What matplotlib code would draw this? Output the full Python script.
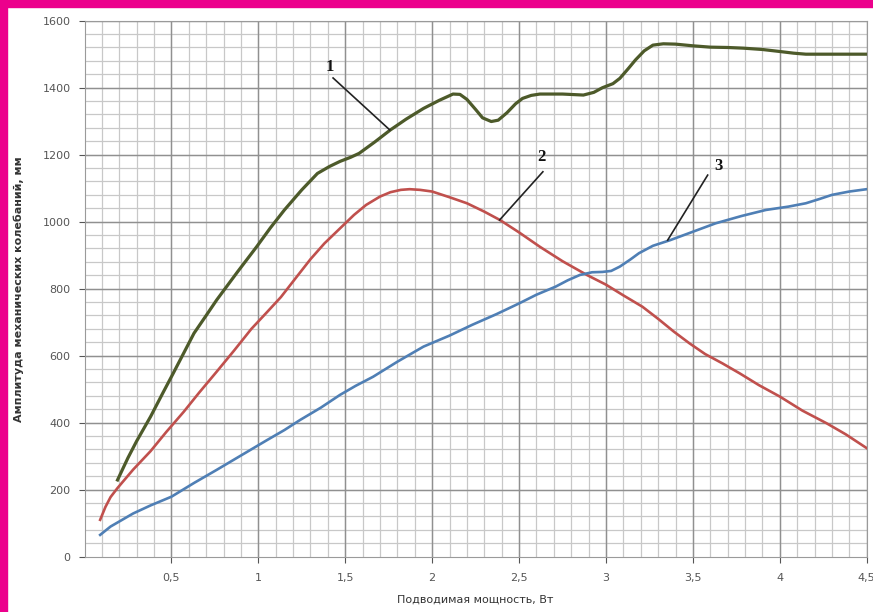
import matplotlib.pyplot as plt
from matplotlib.patches import Rectangle

# curve 1 (green)
x1 = [0.19, 0.25, 0.30, 0.38, 0.45, 0.51, 0.57, 0.63, 0.70, 0.76, 0.88, 0.99, 1.07, 1.15, 1.25,
      1.34, 1.41, 1.47, 1.53, 1.58, 1.67, 1.76, 1.85, 1.95, 2.04, 2.12, 2.16, 2.20, 2.25, 2.29,
      2.34, 2.38, 2.43, 2.48, 2.52, 2.57, 2.62, 2.75, 2.87, 2.93, 2.98, 3.04, 3.08, 3.13, 3.17,
      3.22, 3.27, 3.33, 3.40, 3.50, 3.60, 3.70, 3.79, 3.90, 4.00, 4.08, 4.15, 4.30, 4.50]
y1 = [229, 295, 345, 418, 488, 547, 607, 667, 720, 766, 850, 925, 982, 1035, 1095,
      1144, 1165, 1180, 1192, 1204, 1238, 1274, 1306, 1338, 1362, 1381, 1380, 1365, 1335, 1310,
      1299, 1303, 1325, 1352, 1368, 1377, 1381, 1381, 1378, 1386, 1400, 1412, 1428, 1458, 1483,
      1510, 1527, 1531, 1530, 1525, 1521, 1520, 1518, 1514, 1508, 1503, 1500, 1500, 1500]

# curve 2 (red)
x2 = [0.09, 0.12, 0.15, 0.19, 0.28, 0.38, 0.47, 0.57, 0.66, 0.76, 0.86, 0.96, 1.05, 1.13, 1.22,
      1.30, 1.38, 1.47, 1.55, 1.62, 1.70, 1.76, 1.82, 1.87, 1.93, 2.00, 2.10, 2.20, 2.30, 2.39,
      2.50, 2.62, 2.75, 2.89, 3.00, 3.10, 3.21, 3.30, 3.39, 3.48, 3.57, 3.67, 3.77, 3.88, 4.00,
      4.13, 4.27, 4.38, 4.50]
y2 = [110, 148, 178, 205, 260, 315, 372, 432, 490, 552, 615, 680, 730, 775, 835,
      888, 935, 980, 1020, 1050, 1075, 1088, 1095, 1097, 1095, 1090, 1073, 1055, 1030, 1005,
      968, 925, 882, 841, 812, 780, 746, 710, 672, 637, 605, 577, 547, 512, 478,
      436, 398, 365, 324]

# curve 3 (blue)
x3 = [0.09, 0.15, 0.20, 0.28, 0.38, 0.50, 0.63, 0.76, 0.90, 1.05, 1.15, 1.24, 1.36, 1.47, 1.56,
      1.66, 1.80, 1.95, 2.10, 2.23, 2.37, 2.50, 2.60, 2.71, 2.78, 2.85, 2.92, 2.98, 3.03, 3.08,
      3.14, 3.19, 3.27, 3.37, 3.50, 3.63, 3.78, 3.92, 4.05, 4.15, 4.23, 4.30, 4.40, 4.50]
y3 = [65, 90, 105, 129, 153, 179, 220, 259, 302, 348, 378, 408, 445, 483, 510,
      537, 582, 627, 660, 692, 724, 756, 782, 806, 825, 841, 849, 850, 853, 866,
      887, 906, 928, 945, 970, 995, 1017, 1035, 1045, 1055, 1068, 1080, 1090, 1097]

xticks = [0.5, 1, 1.5, 2, 2.5, 3, 3.5, 4, 4.5]
xtick_labels = ["0,5", "1", "1,5", "2", "2,5", "3", "3,5", "4", "4,5"]
yticks = [0, 200, 400, 600, 800, 1000, 1200, 1400, 1600]

fig = plt.figure(figsize=(8.73, 6.12), dpi=100)
ax = fig.add_axes([0.0968, 0.0904, 0.896, 0.8758])

# grid
for v in [i * 0.1 for i in range(1, 45)]:
    ax.axvline(v, color="#c8c8c8", lw=0.9, zorder=0)
for v in range(40, 1600, 40):
    ax.axhline(v, color="#c8c8c8", lw=0.9, zorder=0)
for v in xticks:
    ax.axvline(v, color="#909090", lw=1.0, zorder=0)
for v in yticks[1:]:
    ax.axhline(v, color="#909090", lw=1.0, zorder=0)

ax.plot(x1, y1, color="#4d5a2a", lw=2.3, zorder=3, solid_joinstyle="round")
ax.plot(x2, y2, color="#c0504d", lw=1.9, zorder=3, solid_joinstyle="round")
ax.plot(x3, y3, color="#4f7fb5", lw=1.9, zorder=3, solid_joinstyle="round")

# callouts
lab = dict(fontfamily="Liberation Serif", fontweight="bold", fontsize=12, color="#111111")
ax.plot([1.43, 1.756], [1429, 1274], color="#222222", lw=1.2, zorder=4)
ax.text(1.41, 1462, "1", ha="center", va="center", **lab)
ax.plot([2.637, 2.388], [1149, 1005], color="#222222", lw=1.2, zorder=4)
ax.text(2.63, 1194, "2", ha="center", va="center", **lab)
ax.plot([3.585, 3.355], [1139, 945], color="#222222", lw=1.2, zorder=4)
ax.text(3.645, 1166, "3", ha="center", va="center", **lab)

ax.set_xlim(0, 4.5)
ax.set_ylim(0, 1600)
ax.set_xticks(xticks)
ax.set_xticklabels(xtick_labels)
ax.set_yticks(yticks)
ax.tick_params(labelsize=8, colors="#555555", length=4, pad=8)
ax.tick_params(axis="y", pad=6)
for s in ax.spines.values():
    s.set_color("#9a9a9a")

ax.set_xlabel("Подводимая мощность, Вт", fontsize=8, color="#333333", labelpad=8)
ax.set_ylabel("Амплитуда механических колебаний, мм", fontsize=8, fontweight="bold",
              color="#333333", labelpad=13)

# magenta frame at left and top
fig.patches.append(Rectangle((0, 0), 0.008, 1, transform=fig.transFigure, color="#ec008c", zorder=10))
fig.patches.append(Rectangle((0, 0.9886), 1, 0.0114, transform=fig.transFigure, color="#ec008c", zorder=10))

fig.savefig("out.png", dpi=100)
